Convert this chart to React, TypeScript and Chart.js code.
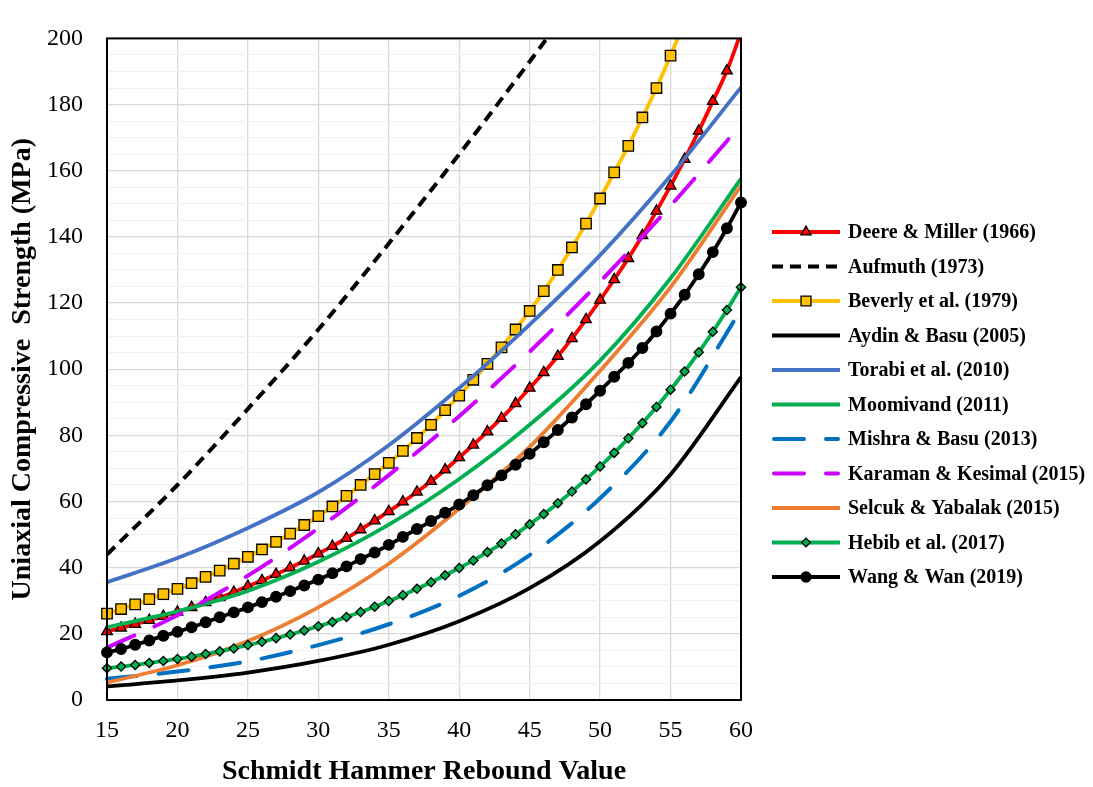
import React, { useEffect, useRef } from 'react';
import { Chart, registerables } from 'chart.js';

Chart.register(...registerables);

// Schmidt hammer rebound values (unit step, and 5-unit step)
const reboundStep = [
  15, 16, 17, 18, 19, 20, 21, 22, 23, 24, 25, 26, 27, 28, 29, 30, 31, 32, 33, 34, 35, 36, 37,
  38, 39, 40, 41, 42, 43, 44, 45, 46, 47, 48, 49, 50, 51, 52, 53, 54, 55, 56, 57, 58, 59, 60,
];
const reboundFive = [15, 20, 25, 30, 35, 40, 45, 50, 55, 60];

// UCS (MPa) of each empirical correlation
const deereMiller = [
  20.7, 21.8, 22.9, 24.1, 25.3, 26.6, 28.0, 29.5, 31.0, 32.6, 34.4, 36.1, 38.0, 40.0, 42.0, 44.2,
  46.5, 48.9, 51.5, 54.2, 57.0, 59.9, 62.9, 66.1, 69.6, 73.3, 77.1, 81.1, 85.2, 89.6, 94.3, 99.0,
  103.9, 109.3, 115.0, 120.9, 127.1, 133.5, 140.4, 147.8, 155.4, 163.5, 172.0, 181.0, 190.2, 201.8,
];
const aufmuth = [44, 65, 88, 112, 138, 165, 193, 222];
const beverly = [
  26.1, 27.5, 28.9, 30.5, 32.0, 33.6, 35.3, 37.2, 39.1, 41.2, 43.3, 45.5, 47.8, 50.3, 52.9, 55.6,
  58.5, 61.7, 65.0, 68.3, 71.7, 75.3, 79.2, 83.2, 87.6, 92.0, 96.8, 101.6, 106.6, 112.0, 117.6,
  123.6, 130.0, 136.8, 144.0, 151.6, 159.5, 167.5, 176.1, 185.0, 194.8, 205.0,
];
const aydinBasu = [4.1, 5.9, 8.3, 11.8, 16.7, 23.8, 33.8, 48.0, 68.2, 97.6];
const torabi = [35.6, 42.9, 52.0, 62.8, 77.0, 94.3, 113.5, 134.5, 158.5, 185.2];
const moomivand = [22.0, 26.8, 33.0, 41.8, 53.0, 66.8, 83.2, 102.6, 127.5, 157.6];
const mishraBasu = [6.4, 8.6, 11.7, 16.6, 22.9, 31.5, 43.8, 61.0, 84.2, 118.0];
const karamanKesimal = [15.8, 25.6, 37.6, 51.9, 68.0, 85.8, 105.3, 126.5, 149.4, 173.9];
const selcukYabalak = [5.3, 10.5, 17.8, 28.0, 41.2, 57.8, 76.5, 99.5, 124.8, 155.5];
const hebib = [
  9.6, 10.1, 10.6, 11.2, 11.8, 12.4, 13.1, 13.9, 14.7, 15.6, 16.6, 17.6, 18.7, 19.8, 21.0, 22.3,
  23.6, 25.1, 26.6, 28.2, 29.9, 31.7, 33.6, 35.6, 37.7, 39.9, 42.2, 44.7, 47.3, 50.1, 53.1, 56.2,
  59.5, 63.0, 66.7, 70.6, 74.7, 79.1, 83.7, 88.6, 93.8, 99.3, 105.1, 111.3, 117.9, 124.8,
];
const wangWan = [
  14.4, 15.4, 16.7, 18.0, 19.4, 20.6, 22.0, 23.5, 25.0, 26.5, 28.0, 29.6, 31.2, 32.9, 34.6, 36.4,
  38.3, 40.4, 42.6, 44.6, 46.9, 49.3, 51.7, 54.1, 56.6, 59.1, 61.9, 64.9, 67.9, 71.1, 74.4, 77.9,
  81.6, 85.4, 89.4, 93.5, 97.7, 101.9, 106.4, 111.4, 116.8, 122.5, 128.7, 135.4, 142.6, 150.4,
];

const yTickLabels = [0, 20, 40, 60, 80, 100, 120, 140, 160, 180, 200];

const FONT = '"Liberation Serif", "Times New Roman", serif';

type Marker = 'triangle' | 'rect' | 'rectRot' | 'circle' | null;

interface Series {
  label: string;
  xs: number[];
  ys: number[];
  color: string;
  width: number;
  dash: number[];
  cap: CanvasLineCap;
  marker: Marker;
  markerFill: string;
  radius: number;
}

const SHORT_DASH = [11, 7];
const LONG_DASH = [30, 22];

const series: Series[] = [
  { label: 'Deere & Miller (1966)', xs: reboundStep, ys: deereMiller, color: '#FF0000', width: 3.8, dash: [], cap: 'butt', marker: 'triangle', markerFill: '#FF0000', radius: 6.2 },
  { label: 'Aufmuth (1973)', xs: reboundFive, ys: aufmuth, color: '#000000', width: 4, dash: SHORT_DASH, cap: 'butt', marker: null, markerFill: '#000', radius: 0 },
  { label: 'Beverly et al. (1979)', xs: reboundStep, ys: beverly, color: '#FFC000', width: 3.8, dash: [], cap: 'butt', marker: 'rect', markerFill: '#FFC000', radius: 7.4 },
  { label: 'Aydin & Basu (2005)', xs: reboundFive, ys: aydinBasu, color: '#000000', width: 3.8, dash: [], cap: 'butt', marker: null, markerFill: '#000', radius: 0 },
  { label: 'Torabi et al. (2010)', xs: reboundFive, ys: torabi, color: '#4472C4', width: 3.8, dash: [], cap: 'butt', marker: null, markerFill: '#4472C4', radius: 0 },
  { label: 'Moomivand (2011)', xs: reboundFive, ys: moomivand, color: '#00B050', width: 3.8, dash: [], cap: 'butt', marker: null, markerFill: '#00B050', radius: 0 },
  { label: 'Mishra & Basu (2013)', xs: reboundFive, ys: mishraBasu, color: '#0070C0', width: 4, dash: LONG_DASH, cap: 'round', marker: null, markerFill: '#0070C0', radius: 0 },
  { label: 'Karaman & Kesimal (2015)', xs: reboundFive, ys: karamanKesimal, color: '#CC00FF', width: 4, dash: LONG_DASH, cap: 'round', marker: null, markerFill: '#CC00FF', radius: 0 },
  { label: 'Selcuk & Yabalak (2015)', xs: reboundFive, ys: selcukYabalak, color: '#ED7D31', width: 3.8, dash: [], cap: 'butt', marker: null, markerFill: '#ED7D31', radius: 0 },
  { label: 'Hebib et al. (2017)', xs: reboundStep, ys: hebib, color: '#00B050', width: 3.8, dash: [], cap: 'butt', marker: 'rectRot', markerFill: '#00B050', radius: 4.6 },
  { label: 'Wang & Wan (2019)', xs: reboundStep, ys: wangWan, color: '#000000', width: 3.8, dash: [], cap: 'butt', marker: 'circle', markerFill: '#000000', radius: 5.3 },
];

function drawMarker(ctx: CanvasRenderingContext2D, kind: Marker, x: number, y: number, r: number, fill: string) {
  if (!kind) return;
  ctx.save();
  ctx.setLineDash([]);
  ctx.fillStyle = fill;
  ctx.strokeStyle = '#000';
  ctx.lineWidth = 1.3;
  ctx.beginPath();
  if (kind === 'triangle') {
    const h = r * Math.sin(Math.PI / 3);
    ctx.moveTo(x, y - r);
    ctx.lineTo(x + h, y + r / 2);
    ctx.lineTo(x - h, y + r / 2);
    ctx.closePath();
  } else if (kind === 'rect') {
    const s = r * Math.SQRT1_2;
    ctx.rect(x - s, y - s, 2 * s, 2 * s);
  } else if (kind === 'rectRot') {
    ctx.moveTo(x, y - r);
    ctx.lineTo(x + r, y);
    ctx.lineTo(x, y + r);
    ctx.lineTo(x - r, y);
    ctx.closePath();
  } else {
    ctx.arc(x, y, r, 0, Math.PI * 2);
  }
  ctx.fill();
  ctx.stroke();
  ctx.restore();
}

// Plot frame and the line-plus-marker key on the right
const frameAndKey = {
  id: 'frameAndKey',
  afterDatasetsDraw(chart: Chart) {
    const { ctx, chartArea: a } = chart;
    ctx.save();
    ctx.strokeStyle = '#000';
    ctx.lineWidth = 2;
    ctx.strokeRect(a.left, a.top, a.right - a.left, a.bottom - a.top);
    ctx.restore();
  },
  afterDraw(chart: Chart) {
    const { ctx, chartArea: a } = chart;
    const x0 = a.right + 31;
    const x1 = a.right + 99;
    const tx = a.right + 107;
    const top = 232;
    const step = 34.5;
    series.forEach((s, i) => {
      const y = top + i * step;
      ctx.save();
      ctx.strokeStyle = s.color;
      ctx.lineWidth = s.width;
      ctx.setLineDash(s.dash);
      ctx.lineCap = s.cap;
      const inset = s.cap === 'round' ? s.width / 2 : 0;
      ctx.beginPath();
      ctx.moveTo(x0 + inset, y);
      ctx.lineTo(x1 - inset, y);
      ctx.stroke();
      ctx.restore();
      drawMarker(ctx, s.marker, (x0 + x1) / 2, y, s.radius * 0.95, s.markerFill);
      ctx.save();
      ctx.fillStyle = '#000';
      ctx.font = `bold 20px ${FONT}`;
      ctx.textAlign = 'left';
      ctx.textBaseline = 'middle';
      ctx.fillText(s.label, tx, y + 1);
      ctx.restore();
    });
  },
};

export default function App() {
  const canvasRef = useRef<HTMLCanvasElement>(null);

  useEffect(() => {
    const canvas = canvasRef.current;
    if (!canvas) return;
    const n = series.length;
    const datasets = series.map((s, i) => ({
      label: s.label,
      data: s.ys.map((y, k) => ({ x: s.xs[k], y })),
      borderColor: s.color,
      backgroundColor: s.markerFill,
      borderWidth: s.width,
      borderDash: s.dash,
      borderCapStyle: s.cap,
      pointStyle: s.marker || 'circle',
      pointRadius: s.marker ? s.radius : 0,
      pointHoverRadius: s.marker ? s.radius : 0,
      pointBackgroundColor: s.markerFill,
      pointBorderColor: '#000',
      pointBorderWidth: 1.3,
      cubicInterpolationMode: 'monotone' as const,
      order: n - i,
      clip: { left: 10, right: 10, top: 0, bottom: 10 },
    }));

    const chart = new Chart(canvas, {
      type: 'line',
      data: { datasets },
      plugins: [frameAndKey],
      options: {
        animation: false,
        responsive: false,
        devicePixelRatio: 1,
        events: [],
        layout: { padding: { left: 0, right: 352, top: 17, bottom: 0 } },
        plugins: {
          legend: { display: false },
          tooltip: { enabled: false },
        },
        scales: {
          x: {
            type: 'linear',
            min: 15,
            max: 60,
            ticks: {
              stepSize: 5,
              padding: 16,
              maxRotation: 0,
              color: '#000',
              font: { family: FONT, size: 24, lineHeight: 1.2 },
            },
            grid: { color: '#D9D9D9', lineWidth: 1.3, drawTicks: false },
            border: { display: false },
            title: {
              display: true,
              text: 'Schmidt Hammer Rebound Value',
              color: '#000',
              font: { family: FONT, size: 28, weight: 'bold', lineHeight: 1 },
              padding: { top: 0, bottom: 1 },
            },
            afterFit: (scale: any) => {
              scale.height = 87;
            },
          },
          y: {
            type: 'linear',
            min: 0,
            max: 200,
            ticks: {
              stepSize: 5,
              maxTicksLimit: 100,
              autoSkip: false,
              padding: 24,
              color: '#000',
              font: { family: FONT, size: 24, lineHeight: 1.2 },
              callback: (v: any) => (yTickLabels.includes(Number(v)) ? String(v) : ''),
            },
            grid: {
              drawTicks: false,
              color: (c: any) => (yTickLabels.includes(c.tick?.value) ? '#D9D9D9' : '#F0F0F0'),
              lineWidth: (c: any) => (yTickLabels.includes(c.tick?.value) ? 1.3 : 1),
            },
            border: { display: false },
            title: {
              display: true,
              text: 'Uniaxial Compressive  Strength (MPa)',
              color: '#000',
              font: { family: FONT, size: 28, weight: 'bold', lineHeight: 1 },
              padding: { top: 9, bottom: 0 },
            },
            afterFit: (scale: any) => {
              scale.width = 107;
            },
          },
        },
      } as any,
    });

    return () => chart.destroy();
  }, []);

  return (
    <div style={{ position: 'fixed', left: 0, top: 0, width: 1093, height: 787, background: '#fff' }}>
      <canvas ref={canvasRef} width={1093} height={787} style={{ display: 'block', width: 1093, height: 787 }} />
    </div>
  );
}
